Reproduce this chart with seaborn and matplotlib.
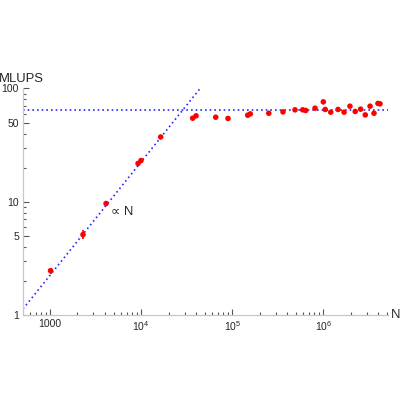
import numpy as np
import pandas as pd
import seaborn as sns
import matplotlib.pyplot as plt
from matplotlib.ticker import FixedLocator, FixedFormatter, LogLocator, NullFormatter

# measured performance (MLUPS) against system size N
N = [1013, 2302, 4120, 9250, 9970, 16400, 36800, 40100, 65900, 89900,
     148000, 158000, 252000, 361000, 489000, 594000, 641000, 811000,
     1.0e6, 1.05e6, 1.205e6, 1.45e6, 1.69e6, 1.96e6, 2.24e6, 2.57e6,
     2.89e6, 3.26e6, 3.60e6, 3.98e6, 4.19e6]
mlups = [2.47, 5.14, 9.66, 21.8, 23.1, 37.3, 54.6, 57.3, 55.7, 54.3,
         58.0, 59.6, 60.4, 62.1, 64.7, 64.7, 63.9, 66.9,
         76.1, 65.2, 61.7, 65.2, 61.7, 69.7, 62.6, 65.6,
         58.4, 69.7, 60.4, 73.7, 73.1]
# error bars only visible for the two smallest systems
err_N = [1013, 2302]
err_val = [2.47, 5.14]
err_size = [0.16, 0.45]

# guide lines: linear scaling and saturation level
lin_N = [505, 44000]
lin_coef = 0.00225
plateau = 65.0

xticks = [1000, 1e4, 1e5, 1e6]
xlabels = ['1000', r'$\mathregular{10^4}$', r'$\mathregular{10^5}$', r'$\mathregular{10^6}$']
yticks = [1, 5, 10, 50, 100]
ylabels = ['1', '5', '10', '50', '100']

sns.set_style("ticks")
plt.rcParams['font.family'] = ['Liberation Sans', 'DejaVu Sans']

df = pd.DataFrame({'N': N, 'MLUPS': mlups})
lin_df = pd.DataFrame({'N': lin_N, 'MLUPS': [lin_coef * n for n in lin_N]})

fig = plt.figure(figsize=(4, 4), dpi=100)
ax = fig.add_axes([0.0575, 0.212, 0.9125, 0.567])
ax.set_xscale('log')
ax.set_yscale('log')

blue = '#2a2aff'
sns.lineplot(data=lin_df, x='N', y='MLUPS', ax=ax, color=blue,
             linestyle=(0, (1, 1.8)), linewidth=1.2)
ax.axhline(plateau, color=blue, linestyle=(0, (1, 1.8)), linewidth=1.2)
ax.errorbar(err_N, err_val, yerr=err_size, fmt='none', ecolor='red',
            elinewidth=1.2, capsize=0)
sns.scatterplot(data=df, x='N', y='MLUPS', ax=ax, color='red',
                s=16, edgecolor='none', zorder=5)

ax.set_xlim(505, 5.13e6)
ax.set_ylim(1, 100)

ax.xaxis.set_major_locator(FixedLocator(xticks))
ax.xaxis.set_major_formatter(FixedFormatter(xlabels))
ax.xaxis.set_minor_locator(LogLocator(base=10, subs=np.arange(2, 10)))
ax.xaxis.set_minor_formatter(NullFormatter())
ax.yaxis.set_major_locator(FixedLocator(yticks))
ax.yaxis.set_major_formatter(FixedFormatter(ylabels))
ax.yaxis.set_minor_locator(LogLocator(base=10, subs=[2, 3, 4, 6, 7, 8, 9]))
ax.yaxis.set_minor_formatter(NullFormatter())

ax.tick_params(which='major', direction='in', length=4, width=0.8,
               color='#555555', labelsize=7.5, pad=3)
ax.tick_params(which='minor', direction='in', length=2, width=0.8,
               color='#555555')
ax.set_xlabel('')
ax.set_ylabel('')
sns.despine(ax=ax)
for side in ['left', 'bottom']:
    ax.spines[side].set_color('#c8c8c8')
    ax.spines[side].set_linewidth(0.9)

fig.text(-0.003, 0.803, 'MLUPS', fontsize=9.4, ha='left', va='center')
fig.text(0.977, 0.212, 'N', fontsize=9.4, ha='left', va='center')
ax.text(4700, 8.2, '\u221d N', fontsize=9.4, ha='left', va='center')

fig.savefig('out.png', dpi=100)
